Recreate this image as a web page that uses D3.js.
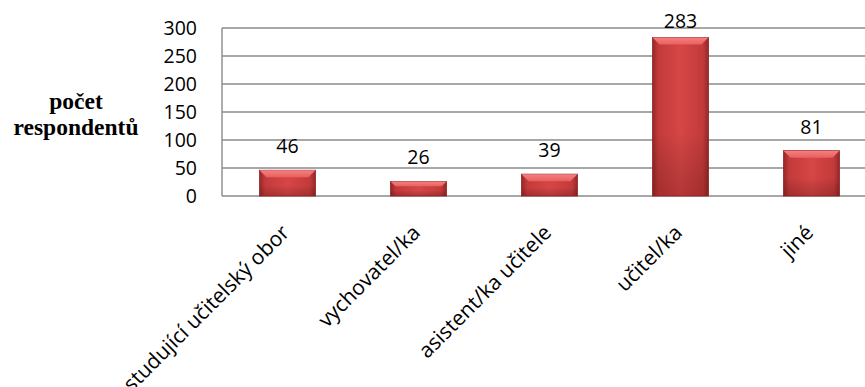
<!DOCTYPE html>
<html><head><meta charset="utf-8">
<script src="https://cdn.jsdelivr.net/npm/d3@7"></script>
<style>body{margin:0;background:#fff;overflow:hidden}svg{display:block}</style>
</head><body>
<script>
const categories = ["studující učitelský obor","vychovatel/ka","asistent/ka učitele","učitel/ka","jiné"];
const values = [46,26,39,283,81];
const yTicks = [0,50,100,150,200,250,300];
const yTitle = ["počet","respondentů"];

const W=865,H=387;
const m={left:222,top:28,right:877,bottom:196};
const svg=d3.select("body").append("svg").attr("width",W).attr("height",H);
const defs=svg.append("defs");
const g1=defs.append("linearGradient").attr("id","barg").attr("x1",0).attr("x2",1).attr("y1",0).attr("y2",0);
[[0,"#952828"],[0.1,"#c33a3a"],[0.5,"#d64646"],[0.9,"#c33a3a"],[1,"#952828"]].forEach(s=>g1.append("stop").attr("offset",s[0]).attr("stop-color",s[1]));
const g2=defs.append("linearGradient").attr("id","barv").attr("x1",0).attr("x2",0).attr("y1",0).attr("y2",1);
[[0,"rgba(0,0,0,0)"],[0.6,"rgba(0,0,0,0)"],[1,"rgba(60,0,0,0.22)"]].forEach(s=>g2.append("stop").attr("offset",s[0]).attr("stop-color",s[1]));
const g3=defs.append("linearGradient").attr("id","bevel").attr("x1",0).attr("x2",0).attr("y1",0).attr("y2",1);
[[0,"#f58080"],[1,"#e86060"]].forEach(s=>g3.append("stop").attr("offset",s[0]).attr("stop-color",s[1]));

const x=d3.scaleBand().domain(categories).range([m.left,m.right]).paddingInner(0.573).paddingOuter(0.2865);
const y=d3.scaleLinear().domain([0,300]).range([m.bottom,m.top]);

// gridlines
svg.append("g").selectAll("line").data(yTicks).join("line")
 .attr("x1",m.left).attr("x2",W).attr("y1",d=>y(d)).attr("y2",d=>y(d))
 .attr("stroke","#8a8a8a").attr("stroke-width",1.4);
svg.append("line").attr("x1",m.left).attr("x2",m.left).attr("y1",m.top).attr("y2",m.bottom).attr("stroke","#8a8a8a").attr("stroke-width",1.4);

// y axis
const ya=svg.append("g").attr("transform",`translate(${m.left-25},0)`)
 .call(d3.axisLeft(y).tickValues(yTicks).tickSize(0).tickPadding(0));
ya.select(".domain").remove();
ya.selectAll("text").attr("font-family","'Open Sans',sans-serif").attr("font-size",19.5).attr("fill","#000");

// y title
svg.append("text").attr("font-family","'Liberation Serif',serif").attr("font-weight","bold").attr("font-size",23.5)
 .attr("text-anchor","middle").selectAll("tspan").data(yTitle).join("tspan")
 .attr("x",76).attr("y",(d,i)=>109+i*26).text(d=>d);

// bars
const bars=svg.append("g").selectAll("g").data(values).join("g");
bars.append("rect").attr("x",(d,i)=>x(categories[i])).attr("width",x.bandwidth())
 .attr("y",d=>y(d)).attr("height",d=>y(0)-y(d)).attr("fill","url(#barg)");
bars.append("rect").attr("x",(d,i)=>x(categories[i])).attr("width",x.bandwidth())
 .attr("y",d=>y(d)).attr("height",d=>y(0)-y(d)).attr("fill","url(#barv)")
 .attr("stroke","#8a2424").attr("stroke-width",0.8);
bars.append("path").attr("d",(d,i)=>{
  const x0=x(categories[i]),x1=x0+x.bandwidth(),t=y(d),b=Math.min(7,(y(0)-y(d))/3);
  return `M${x0},${t}L${x1},${t}L${x1-b},${t+b}L${x0+b},${t+b}Z`;
}).attr("fill","url(#bevel)");
// value labels
svg.append("g").selectAll("text").data(values).join("text")
 .attr("x",(d,i)=>x(categories[i])+x.bandwidth()/2).attr("y",d=>Math.max(y(d)-17,28))
 .attr("text-anchor","middle").attr("font-family","'Open Sans',sans-serif").attr("font-size",19.5).text(d=>d);

// x labels
svg.append("g").selectAll("text").data(categories).join("text")
 .attr("transform",d=>`translate(${x(d)+x.bandwidth()/2+3},${m.bottom+38}) rotate(-45)`)
 .attr("text-anchor","end").attr("font-family","'Open Sans',sans-serif").attr("font-size",21).text(d=>d);
</script>
</body></html>
